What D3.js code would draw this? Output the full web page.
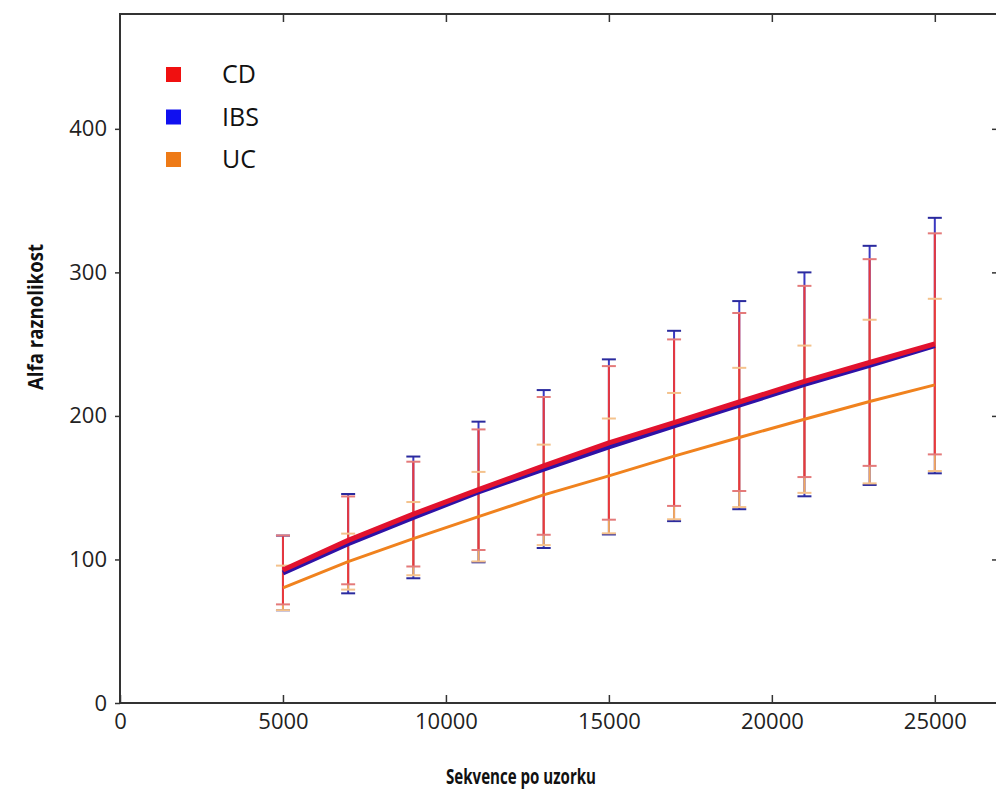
<!DOCTYPE html>
<html>
<head>
<meta charset="utf-8">
<script src="https://cdn.jsdelivr.net/npm/d3@7"></script>
<style>
html,body{margin:0;padding:0;background:#fff;}
svg{display:block;}
</style>
</head>
<body>
<script>
// ---- data ----
const depths = [5000, 7000, 9000, 11000, 13000, 15000, 17000, 19000, 21000, 23000, 25000];
const seriesNames = ["CD", "IBS", "UC"];
const cdMean  = [92.7, 113.3, 131.6, 148.6, 165.2, 181.2, 195.3, 209.7, 224.0, 237.2, 250.2];
const cdErr   = [24.0, 30.6, 36.5, 42.0, 48.0, 53.5, 58.0, 62.0, 66.6, 72.0, 77.0];
const ibsMean = [90.6, 111.0, 129.3, 147.0, 163.0, 178.4, 193.0, 207.5, 222.0, 235.2, 249.0];
const ibsErr  = [26.0, 34.6, 42.4, 49.0, 55.0, 61.0, 66.3, 72.5, 78.0, 83.3, 89.0];
const ucMean  = [80.2, 98.5, 114.5, 129.8, 145.0, 158.2, 172.0, 185.0, 197.7, 210.0, 221.6];
const ucErr   = [15.5, 19.5, 25.5, 31.2, 35.0, 40.0, 44.0, 48.5, 51.3, 57.0, 60.0];
const xTicks = [0, 5000, 10000, 15000, 20000, 25000];
const yTicks = [0, 100, 200, 300, 400];
const xLabel = "Sekvence po uzorku";
const yLabel = "Alfa raznolikost";

(function () {
// ---- layout ----
const W = 996, H = 790;
const pL = 120, pR = 1000, pT = 14, pB = 703;

const svg = d3.select("body").append("svg").attr("width", W).attr("height", H);
svg.append("rect").attr("width", W).attr("height", H).attr("fill", "#fff");

const x = d3.scaleLinear().domain([0, 27000]).range([pL, pR]);
const y = d3.scaleLinear().domain([0, 480]).range([pB, pT]);

const series = [
  {name: "IBS", mean: ibsMean, err: ibsErr, line: "#2e12a6", lw: 5, bar: "#3a38c0", cap: "#2a2a9e"},
  {name: "UC",  mean: ucMean,  err: ucErr,  line: "#f0821e", lw: 3, bar: "#f3a860", cap: "#f4c28c"},
  {name: "CD",  mean: cdMean,  err: cdErr,  line: "#e2122e", lw: 5, bar: "#e8383e", cap: "#e47a7a"}
];
const legendColors = {CD: "#f01010", IBS: "#1010f0", UC: "#ee7a16"};

const plot = svg.append("g");

// error bars
const capW = 7;
series.forEach(s => {
  const g = plot.append("g").attr("class", "err-" + s.name);
  depths.forEach((d, i) => {
    const lo = s.mean[i] - s.err[i], hi = s.mean[i] + s.err[i];
    g.append("line").attr("x1", x(d)).attr("x2", x(d)).attr("y1", y(lo)).attr("y2", y(hi))
      .attr("stroke", s.bar).attr("stroke-width", 2);
  });
});
series.forEach(s => {
  const g = plot.append("g").attr("class", "cap-" + s.name);
  depths.forEach((d, i) => {
    [s.mean[i] - s.err[i], s.mean[i] + s.err[i]].forEach(v => {
      g.append("line").attr("x1", x(d) - capW).attr("x2", x(d) + capW).attr("y1", y(v)).attr("y2", y(v))
        .attr("stroke", s.cap).attr("stroke-width", 2);
    });
  });
});

// lines
const lineGen = arr => d3.line().x((d, i) => x(depths[i])).y(d => y(d))(arr);
series.forEach(s => {
  plot.append("path").attr("d", lineGen(s.mean)).attr("fill", "none")
    .attr("stroke", s.line).attr("stroke-width", s.lw).attr("stroke-linejoin", "round");
});

// frame
svg.append("rect").attr("x", pL).attr("y", pT).attr("width", pR - pL).attr("height", pB - pT)
  .attr("fill", "none").attr("stroke", "#333").attr("stroke-width", 2);

// axes
const tickFont = "'Open Sans', sans-serif";
const xAxis = d3.axisBottom(x).tickValues(xTicks).tickSize(-8).tickPadding(16).tickFormat(d3.format("d"));
const gx = svg.append("g").attr("transform", `translate(0,${pB})`).call(xAxis);
const yAxis = d3.axisLeft(y).tickValues(yTicks).tickSize(5).tickPadding(8).tickFormat(d3.format("d"));
const gy = svg.append("g").attr("transform", `translate(${pL},0)`).call(yAxis);
const xTop = d3.axisTop(x).tickValues(xTicks.filter(v => v > 0)).tickSize(-8).tickFormat("");
svg.append("g").attr("transform", `translate(0,${pT})`).call(xTop);
const yRight = d3.axisRight(y).tickValues(yTicks.filter(v => v > 0)).tickSize(-8).tickFormat("");
svg.append("g").attr("transform", `translate(${pR},0)`).call(yRight);

svg.selectAll(".domain").remove();
svg.selectAll(".tick line").attr("stroke", "#333").attr("stroke-width", 1.5);
svg.selectAll(".tick text").attr("fill", "#222").style("font-family", tickFont).style("font-size", "22px");
gx.selectAll(".tick text").attr("dy", "0.45em");

// axis labels
svg.append("text").attr("x", 521).attr("y", 784).attr("text-anchor", "middle")
  .attr("textLength", 150).attr("lengthAdjust", "spacingAndGlyphs")
  .style("font-family", "'Open Sans', sans-serif").style("font-weight", "bold").style("font-size", "22px")
  .attr("fill", "#111").text(xLabel);
svg.append("text").attr("transform", "translate(43,317) rotate(-90)").attr("text-anchor", "middle")
  .attr("textLength", 146).attr("lengthAdjust", "spacingAndGlyphs")
  .style("font-family", "'Open Sans', sans-serif").style("font-weight", "bold").style("font-size", "22px")
  .attr("fill", "#111").text(yLabel);

// legend
const legend = svg.append("g").attr("transform", "translate(166,67)");
seriesNames.forEach((n, i) => {
  const ly = i * 42.5;
  legend.append("rect").attr("x", 0).attr("y", ly).attr("width", 15).attr("height", 15)
    .attr("fill", legendColors[n]);
  legend.append("text").attr("x", 56).attr("y", ly + 16)
    .style("font-family", "'Open Sans', sans-serif").style("font-size", "25px")
    .attr("fill", "#111").text(n);
});
})();
</script>
</body>
</html>
